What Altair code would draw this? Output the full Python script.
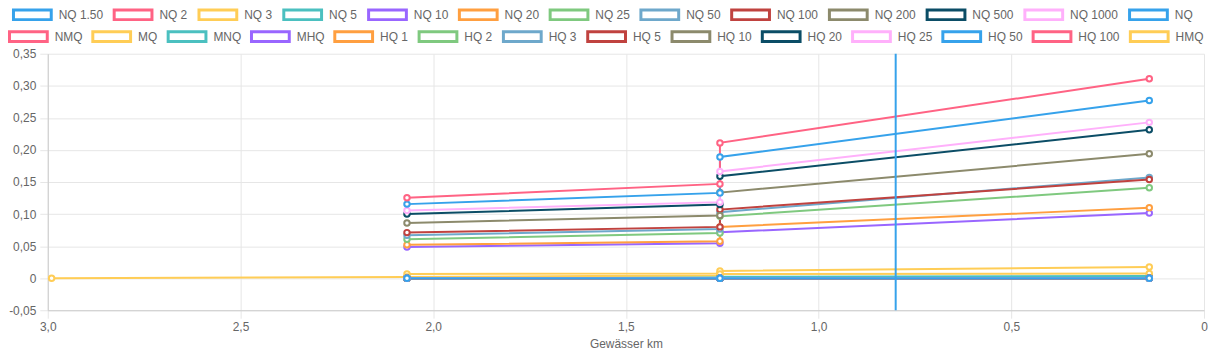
import altair as alt
import pandas as pd

# ---- data ----
palette = ["#36a2eb", "#ff6384", "#ffcd56", "#4bc0c0", "#9966ff", "#ff9f40",
           "#7fc97f", "#6ea8cb", "#c0423f", "#8c8a6c", "#0b4d66", "#ffb0fb"]

km_main = [2.068, 1.256, 1.256, 0.142]
km_hmq = [2.99, 2.068, 1.256, 1.256, 0.142]

group_a = ["NQ 1.50", "NQ 2", "NQ 3", "NQ 5", "NQ 10", "NQ 20", "NQ 25",
           "NQ 50", "NQ 100", "NQ 200", "NQ 500", "NQ 1000", "NQ"]
group_b = ["NMQ", "MQ", "MNQ", "MHQ", "HQ 1", "HQ 2", "HQ 3", "HQ 5",
           "HQ 10", "HQ 20", "HQ 25", "HQ 50", "HQ 100", "HMQ"]

nq_150 = [0.0, 0.0, 0.0, 0.0]
nq_2 = [0.0, 0.0, 0.0, 0.0]
nq_3 = [0.0, 0.0, 0.0, 0.0]
nq_5 = [0.0, 0.0, 0.0, 0.0]
nq_10 = [0.0, 0.0, 0.0, 0.0]
nq_20 = [0.0, 0.0, 0.0, 0.0]
nq_25 = [0.0, 0.0, 0.0, 0.0]
nq_50 = [0.0, 0.0, 0.0, 0.0]
nq_100 = [0.0, 0.0, 0.0, 0.0]
nq_200 = [0.0, 0.0, 0.0, 0.0]
nq_500 = [0.0, 0.0, 0.0, 0.0]
nq_1000 = [0.0, 0.0, 0.0, 0.0]
nq = [0.0, 0.0, 0.0, 0.0]

nmq = [0.0003, 0.0004, 0.0005, 0.0008]
mq = [0.0065, 0.0075, 0.0113, 0.0175]
mnq = [0.0012, 0.0016, 0.0022, 0.0035]
mhq = [0.0485, 0.0546, 0.0716, 0.1015]
hq_1 = [0.052, 0.0577, 0.080, 0.110]
hq_2 = [0.0608, 0.0706, 0.0964, 0.141]
hq_3 = [0.067, 0.0768, 0.103, 0.157]
hq_5 = [0.0711, 0.080, 0.107, 0.154]
hq_10 = [0.0861, 0.0979, 0.1335, 0.194]
hq_20 = [0.100, 0.115, 0.159, 0.2314]
hq_25 = [0.1057, 0.1186, 0.1665, 0.243]
hq_50 = [0.1155, 0.133, 0.189, 0.277]
hq_100 = [0.1253, 0.147, 0.211, 0.311]
hmq = [0.0, 0.002, 0.0045, 0.0065, 0.0073]

marker_km = [0.80]

values_a = [nq_150, nq_2, nq_3, nq_5, nq_10, nq_20, nq_25, nq_50, nq_100,
            nq_200, nq_500, nq_1000, nq]
values_b = [nmq, mq, mnq, mhq, hq_1, hq_2, hq_3, hq_5, hq_10, hq_20, hq_25,
            hq_50, hq_100, hmq]


def build(names, vals):
    rows = []
    for name, v in zip(names, vals):
        xs = km_hmq if len(v) == len(km_hmq) else km_main
        for i, (x, y) in enumerate(zip(xs, v)):
            rows.append({"series": name, "km": x, "q": y, "idx": i})
    return pd.DataFrame(rows)


df_a = build(group_a, values_a)
df_b = build(group_b, values_b)
df_marker = pd.DataFrame({"km": marker_km})

colors_a = [palette[i % 12] for i in range(len(group_a))]
colors_b = [palette[(len(group_a) + i) % 12] for i in range(len(group_b))]

FONT = "Liberation Sans"
box = "M-1,-0.255H1V0.255H-1Z"


def legend(x, y, n, pad):
    return alt.Legend(orient="none", legendX=x, legendY=y, direction="horizontal",
                      columns=n, title=None, symbolType=box, symbolSize=1444,
                      symbolStrokeWidth=3, symbolFillColor="white", symbolOpacity=1,
                      labelFont=FONT, labelFontSize=12, labelColor="#666",
                      labelOffset=6, columnPadding=pad, labelLimit=0, gridAlign="each")


x_enc = alt.X("km:Q", scale=alt.Scale(domain=[0, 3], reverse=True, nice=False),
              axis=alt.Axis(values=[0, 0.5, 1.0, 1.5, 2.0, 2.5, 3.0],
                            title="Gewässer km", labelFlush=False,
                            labelExpr="datum.value == 0 ? '0' : replace(format(datum.value, '.1f'), '.', ',')"))
y_enc = alt.Y("q:Q", scale=alt.Scale(domain=[-0.05, 0.35], nice=False),
              axis=alt.Axis(values=[-0.05, 0, 0.05, 0.1, 0.15, 0.2, 0.25, 0.3, 0.35],
                            title=None, labelFlush=False,
                            labelExpr="datum.value == 0 ? '0' : replace(replace(format(datum.value, '.2f'), '.', ','), '\u2212', '-')"))

col_a = alt.Color("series:N", scale=alt.Scale(domain=group_a, range=colors_a),
                  legend=legend(-36, -60, 13, 4.3))
col_b = alt.Stroke("series:N", scale=alt.Scale(domain=group_b, range=colors_b),
                   legend=legend(-40, -38, 14, 3.8))

lines_b = alt.Chart(df_b).mark_line(strokeWidth=2).encode(
    x=x_enc, y=y_enc, stroke=col_b, order="idx:Q")
points_b = alt.Chart(df_b).mark_point(shape="circle", size=30, strokeWidth=2,
                                      filled=False, fill="white", opacity=1).encode(
    x=x_enc, y=y_enc, stroke=col_b)
lines_a = alt.Chart(df_a).mark_line(strokeWidth=2).encode(
    x=x_enc, y=y_enc, color=col_a, order="idx:Q")
points_a = alt.Chart(df_a).mark_point(shape="circle", size=30, strokeWidth=2,
                                      filled=False, fill="white", opacity=1).encode(
    x=x_enc, y=y_enc, color=col_a)
rule = alt.Chart(df_marker).mark_rule(color="#36a2eb", strokeWidth=2).encode(x=x_enc)

chart = alt.layer(lines_b, points_b, lines_a, points_a, rule).properties(
    width=1163, height=258,
    autosize=alt.AutoSizeParams(type="none"),
    padding={"left": 40, "top": 45, "right": 4, "bottom": 45},
).configure_view(strokeWidth=0).configure_axis(
    labelFont=FONT, labelFontSize=12, labelColor="#666",
    titleFont=FONT, titleFontSize=12, titleColor="#666", titleFontWeight="normal",
    gridColor="#e6e6e6", tickColor="#e6e6e6", tickSize=8, domainColor="#cccccc",
    labelPadding=3,
).configure_axisY(labelPadding=4).configure_axisX(titlePadding=6)

chart.save("out.html", embed_options={"renderer": "svg", "actions": False})
